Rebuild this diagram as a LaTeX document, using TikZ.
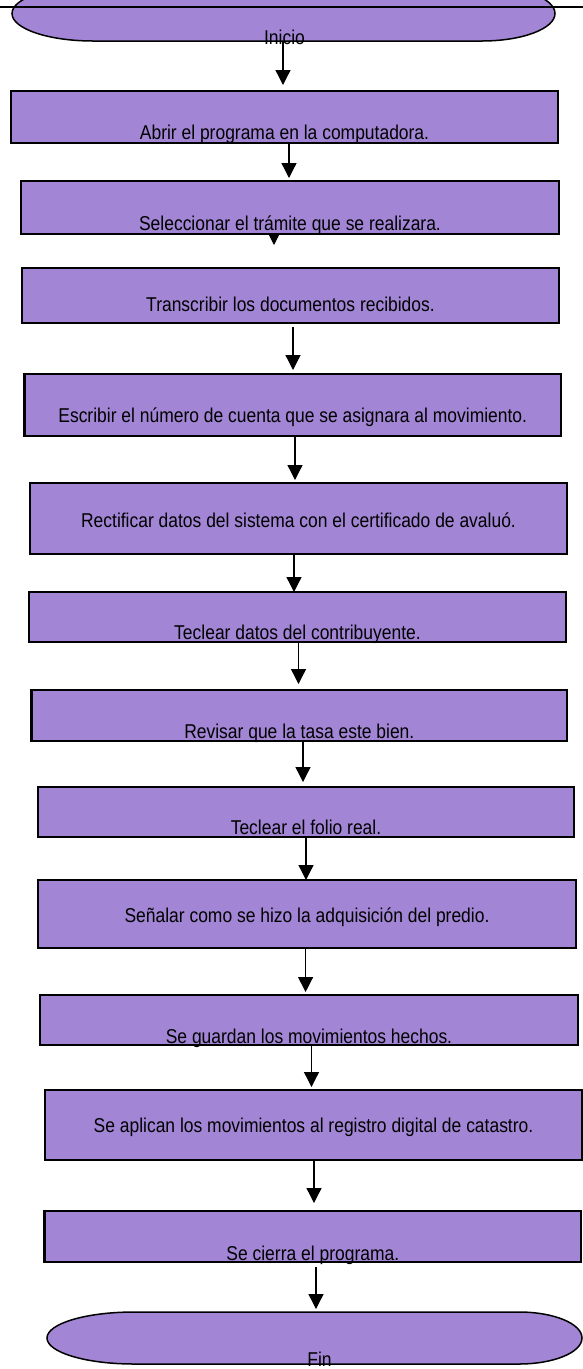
\documentclass[tikz,border=0pt]{standalone}
\usepackage{fontspec}
\setmainfont{Liberation Sans}[FakeStretch=0.873]
\usetikzlibrary{arrows.meta,backgrounds}
\definecolor{boxfill}{RGB}{162,134,213}
\begin{document}
\begin{tikzpicture}[x=1pt,y=-1pt,
  stepbox/.style={draw=black, line width=2.6pt, fill=boxfill, rectangle, inner sep=0pt, outer sep=0pt},
  termbox/.style={draw=none, rectangle, inner sep=0pt, outer sep=0pt},
  txt/.style={font=\fontsize{20}{24}\selectfont, inner sep=0pt, anchor=base},
  arr/.style={line width=1.3pt, -{Triangle[length=15pt,width=15pt]}},
  termline/.style={draw=black, line width=1.5pt, fill=boxfill}]
\useasboundingbox (0,0) rectangle (583,1369);

% start terminal
\node[termbox, minimum width=543pt, minimum height=55pt] (ini) at (283.5,13.5) {};
\draw[termline] ([xshift=81pt]ini.north west) -- ([xshift=-73pt]ini.north east)
  arc[start angle=90, end angle=-90, x radius=73pt, y radius=27.5pt]
  -- ([xshift=81pt]ini.south west)
  arc[start angle=270, end angle=90, x radius=81pt, y radius=27.5pt] -- cycle;
\node[txt] (lbl0) at ([xshift=1pt,yshift=-3pt]ini.south) {Inicio};

% process boxes
\node[stepbox, minimum width=547pt, minimum height=52pt] (b1) at (284.5,117) {};
\node[txt] (lbl1) at ([yshift=4pt]b1.south) {Abrir el programa en la computadora.};

\node[stepbox, minimum width=538pt, minimum height=53pt] (b2) at (290,207.5) {};
\node[txt] (lbl2) at ([yshift=4pt]b2.south) {Seleccionar el trámite que se realizara.};

\node[stepbox, minimum width=537pt, minimum height=55pt] (b3) at (290.5,295.5) {};
\node[txt] (lbl3) at ([yshift=12pt]b3.south) {Transcribir los documentos recibidos.};

\node[stepbox, minimum width=536.5pt, minimum height=62pt] (b4) at (292.75,405) {};
\node[txt] (lbl4) at ([yshift=14pt]b4.south) {Escribir el número de cuenta que se asignara al movimiento.};

\node[stepbox, minimum width=537pt, minimum height=71pt] (b5) at (298.5,518.5) {};
\node[txt] (lbl5) at ([yshift=27pt]b5.south) {Rectificar datos del sistema con el certificado de avaluó.};

\node[stepbox, minimum width=537pt, minimum height=50pt] (b6) at (297.5,617) {};
\node[txt] (lbl6) at ([yshift=3pt]b6.south) {Teclear datos del contribuyente.};

\node[stepbox, minimum width=535.4pt, minimum height=51pt] (b7) at (299.3,715.5) {};
\node[txt] (lbl7) at ([yshift=3pt]b7.south) {Revisar que la tasa este bien.};

\node[stepbox, minimum width=536pt, minimum height=50pt] (b8) at (306,812) {};
\node[txt] (lbl8) at ([yshift=3pt]b8.south) {Teclear el folio real.};

\node[stepbox, minimum width=538pt, minimum height=68pt] (b9) at (307,914) {};
\node[txt] (lbl9) at ([yshift=26pt]b9.south) {Señalar como se hizo la adquisición del predio.};

\node[stepbox, minimum width=538pt, minimum height=50pt] (b10) at (309,1020) {};
\node[txt] (lbl10) at ([yshift=2pt]b10.south) {Se guardan los movimientos hechos.};

\node[stepbox, minimum width=537pt, minimum height=70pt] (b11) at (313.5,1125) {};
\node[txt] (lbl11) at ([yshift=28pt]b11.south) {Se aplican los movimientos al registro digital de catastro.};

\node[stepbox, minimum width=536.4pt, minimum height=51pt] (b12) at (312.8,1236.5) {};
\node[txt] (lbl12) at ([yshift=2pt]b12.south) {Se cierra el programa.};

% end terminal
\node[termbox, minimum width=535pt, minimum height=52pt] (fin) at (314.5,1338) {};
\draw[termline] ([xshift=87pt]fin.north west) -- ([xshift=-63pt]fin.north east)
  arc[start angle=90, end angle=-90, x radius=63pt, y radius=26pt]
  -- ([xshift=87pt]fin.south west)
  arc[start angle=270, end angle=90, x radius=87pt, y radius=26pt] -- cycle;
\node[txt] (lbl13) at ([xshift=5pt,yshift=-2pt]fin.south) {Fin};

% arrow end points
\coordinate (e0) at (283,85);
\coordinate (e1) at (289,178);
\coordinate (e2) at (274,245);
\coordinate (e3) at (293,370);
\coordinate (e4) at (295,480);
\coordinate (e5) at (294,592);
\coordinate (e6) at (298.5,684);
\coordinate (e7) at (303,782);
\coordinate (e8) at (306,880);
\coordinate (e9) at (305.6,992);
\coordinate (e10) at (311.5,1087);
\coordinate (e11) at (314,1203);
\coordinate (e12) at (316,1309);

% connectors
\draw[arr] (ini.south -| e0) -- (e0);
\draw[arr] (b1.south -| e1) -- (e1);
\begin{scope}[on background layer]
  \draw[arr] (b2.center -| e2) -- (e2);
\end{scope}
\draw[arr, shorten <=4pt] (b3.south -| e3) -- (e3);
\draw[arr] (b4.south -| e4) -- (e4);
\draw[arr] (b5.south -| e5) -- (e5);
\draw[arr] (b6.south -| e6) -- (e6);
\draw[arr] (b7.south -| e7) -- (e7);
\draw[arr] (b8.south -| e8) -- (e8);
\draw[arr] (b9.south -| e9) -- (e9);
\draw[arr] (b10.south -| e10) -- (e10);
\draw[arr] (b11.south -| e11) -- (e11);
\draw[arr, shorten <=5pt] (b12.south -| e12) -- (e12);

% top rule across the page
\draw[line width=1.3pt] (0,7) -- (583,7);
\end{tikzpicture}
\end{document}
